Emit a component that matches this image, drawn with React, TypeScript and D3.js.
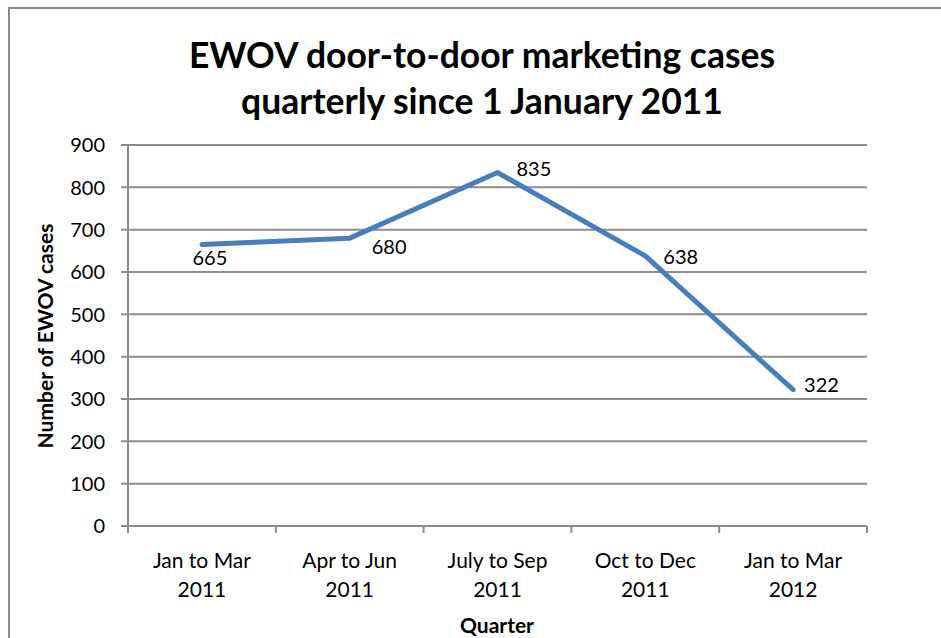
import React from "react";
import * as d3 from "d3";

const categories: string[][] = [
  ["Jan to Mar", "2011"],
  ["Apr to Jun", "2011"],
  ["July to Sep", "2011"],
  ["Oct to Dec", "2011"],
  ["Jan to Mar", "2012"],
];
const values: number[] = [665, 680, 835, 638, 322];
const yTicks: number[] = [0, 100, 200, 300, 400, 500, 600, 700, 800, 900];
const titleLines: string[] = ["EWOV door-to-door marketing cases", "quarterly since 1 January 2011"];
const yTitle = "Number of EWOV cases";
const xTitle = "Quarter";

// label layout (offset from point): [dx, dy, anchor]
const labelLayout: [number, number, string][] = [
  [8, 21, "middle"],
  [22, 16, "start"],
  [19, 3, "start"],
  [18, 8, "start"],
  [11, 2, "start"],
];

const W = 941;
const H = 638;
const FONT = "Lato, 'Open Sans', sans-serif";
const GRID = "#8c8c8c";
const LINE = "#4a7ebb";

export default function App() {
  const left = 128;
  const right = 867;
  const top = 145;
  const bottom = 526;

  const x = d3
    .scaleBand<number>()
    .domain(values.map((_, i) => i))
    .range([left, right]);
  const y = d3.scaleLinear().domain([0, 900]).range([bottom, top]);

  const cx = (i: number) => (x(i) as number) + x.bandwidth() / 2;
  const line = d3
    .line<number>()
    .x((_, i) => cx(i))
    .y((d) => y(d));

  const bounds = d3.range(values.length + 1).map((i) =>
    i < values.length ? (x(i) as number) : (x(values.length - 1) as number) + x.bandwidth()
  );

  return (
    <svg
      width={W}
      height={H}
      style={{ position: "absolute", left: 0, top: 0, display: "block", background: "#fff" }}
    >
      <rect x={9} y={8} width={W} height={H} fill="#fff" stroke="#8a8a8a" strokeWidth={2} />
      {titleLines.map((t, i) => (
        <text
          key={i}
          x={482}
          y={68 + i * 46}
          textAnchor="middle"
          fontFamily={FONT}
          fontWeight="bold"
          fontSize={35.5}
          fill="#000"
        >
          {t}
        </text>
      ))}
      {yTicks.map((t) => (
        <g key={t}>
          <line
            x1={left - 7}
            x2={right}
            y1={y(t)}
            y2={y(t)}
            stroke={GRID}
            strokeWidth={2}
          />
          <text
            x={left - 23}
            y={y(t)}
            dy="0.36em"
            textAnchor="end"
            fontFamily={FONT}
            fontSize={20}
            fill="#000"
          >
            {t}
          </text>
        </g>
      ))}
      <line x1={left} x2={left} y1={top} y2={bottom} stroke={GRID} strokeWidth={2} />
      {bounds.map((b, i) => (
        <line key={i} x1={b} x2={b} y1={bottom} y2={bottom + 7} stroke={GRID} strokeWidth={2} />
      ))}
      {categories.map((c, i) =>
        c.map((s, j) => (
          <text
            key={`${i}-${j}`}
            x={cx(i)}
            y={568 + j * 29}
            textAnchor="middle"
            fontFamily={FONT}
            fontSize={21}
            fill="#000"
          >
            {s}
          </text>
        ))
      )}
      <text
        x={497}
        y={633}
        textAnchor="middle"
        fontFamily={FONT}
        fontWeight="bold"
        fontSize={21}
        fill="#000"
      >
        {xTitle}
      </text>
      <text
        transform={`translate(53, ${336}) rotate(-90)`}
        textAnchor="middle"
        fontFamily={FONT}
        fontWeight="bold"
        fontSize={21}
        fill="#000"
      >
        {yTitle}
      </text>
      <path
        d={line(values) || ""}
        fill="none"
        stroke={LINE}
        strokeWidth={5}
        strokeLinejoin="round"
        strokeLinecap="round"
      />
      {values.map((v, i) => {
        const [dx, dy, anchor] = labelLayout[i];
        return (
          <text
            key={i}
            x={cx(i) + dx}
            y={y(v) + dy}
            textAnchor={anchor}
            fontFamily={FONT}
            fontSize={20}
            fill="#000"
          >
            {v}
          </text>
        );
      })}
    </svg>
  );
}
